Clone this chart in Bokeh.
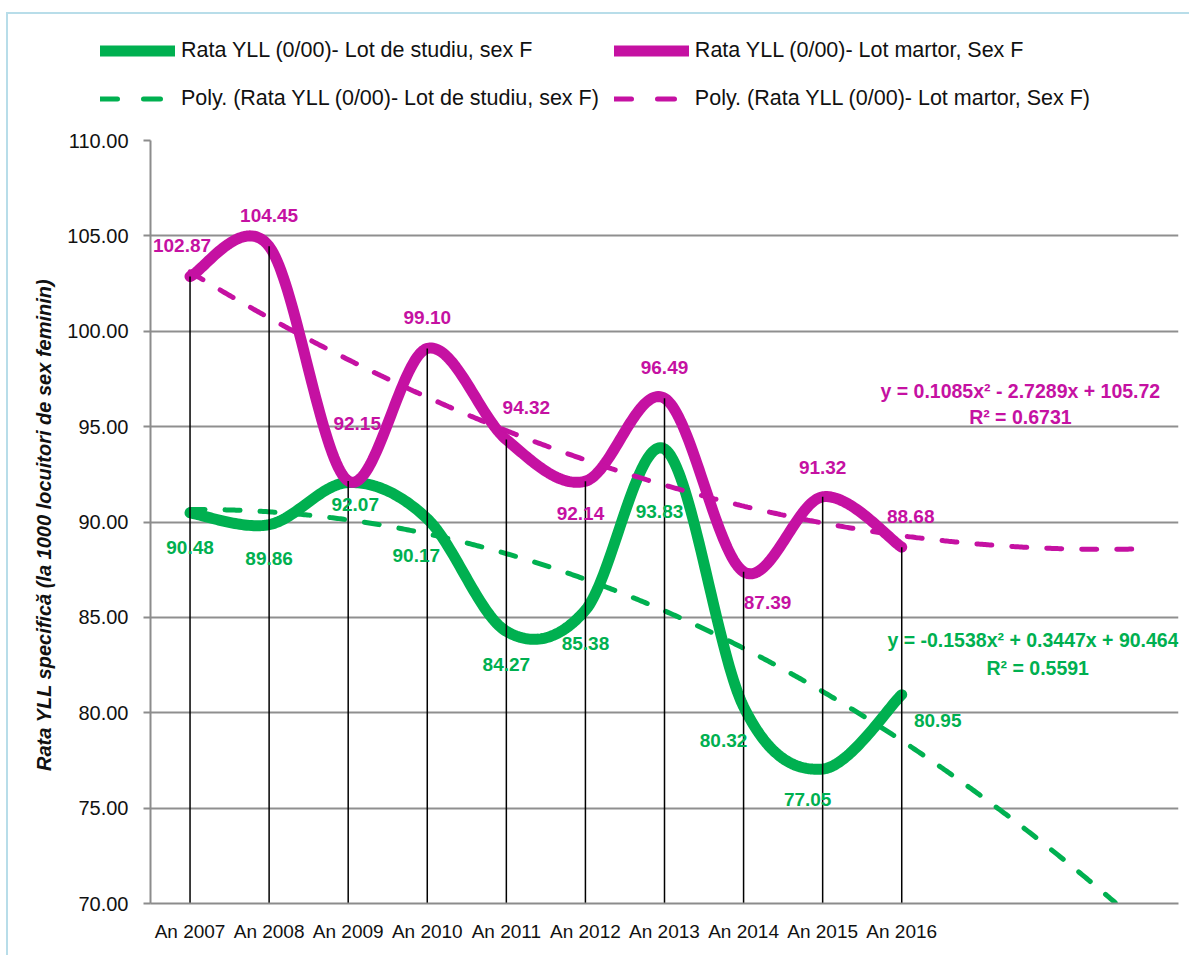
import numpy as np
from bokeh.plotting import figure
from bokeh.layouts import column
from bokeh.models import (ColumnDataSource, Legend, LegendItem, Label, FixedTicker,
                          Range1d, NumeralTickFormatter)
from bokeh.embed import file_html
from bokeh.resources import INLINE
from bokeh.core.properties import value

# ---------------- data ----------------
years = ["An 2007", "An 2008", "An 2009", "An 2010", "An 2011",
         "An 2012", "An 2013", "An 2014", "An 2015", "An 2016"]
studiu = [90.48, 89.86, 92.07, 90.17, 84.27, 85.38, 93.83, 80.32, 77.05, 80.95]
martor = [102.87, 104.45, 92.15, 99.10, 94.32, 92.14, 96.49, 87.39, 91.32, 88.68]
forecast_periods = 3
eq_martor = ["y = 0.1085x² - 2.7289x + 105.72", "R² = 0.6731"]
eq_studiu = ["y = -0.1538x² + 0.3447x + 90.464", "R² = 0.5591"]
y_ticks = [70, 75, 80, 85, 90, 95, 100, 105, 110]
series_names = ["Rata YLL (0/00)- Lot de studiu, sex F",
                "Rata YLL (0/00)- Lot martor, Sex F"]

# label offsets (pixels) for data labels
studiu_dx = [0, 0, 7, -11, 0, 0, -5, -20, -15, 36]
studiu_dy = [35, 34, 22, 37, 33, 33, 63, 34, 30, 26]
martor_dx = [-8, 0, 9, 0, 20, -5, 0, 24, 0, 9]
martor_dy = [-31, -31, -57, -31, -32, 32, -31, 31, -29, -31]

GREEN = "#00B050"
MAGENTA = "#C511A2"
FONT = "Liberation Sans"
FS = "19px"
W = 1189
LEG_H = 125

x = np.arange(1, len(years) + 1)


def smooth(xs, ys, n=40):
    P = np.column_stack([np.asarray(xs, float), np.asarray(ys, float)])
    ext = np.vstack([P[0], P, P[-1]])
    pts = []
    t = np.linspace(0, 1, n)[:, None]
    for i in range(len(P) - 1):
        p0, p1, p2, p3 = ext[i], ext[i + 1], ext[i + 2], ext[i + 3]
        c1 = p1 + (p2 - p0) / 6.0
        c2 = p2 - (p3 - p1) / 6.0
        seg = (1 - t) ** 3 * p1 + 3 * (1 - t) ** 2 * t * c1 + 3 * (1 - t) * t ** 2 * c2 + t ** 3 * p2
        pts.append(seg if i == 0 else seg[1:])
    a = np.vstack(pts)
    return a[:, 0], a[:, 1]


def trend(xs, ys):
    coef = np.polyfit(xs, ys, 2)
    xt = np.linspace(1, len(xs) + forecast_periods, 600)
    yt = np.polyval(coef, xt)
    m = yt >= 70
    return xt[m], yt[m]


solid_style = dict(line_width=11, line_cap="round", line_join="round")
dash_style = dict(line_width=5, line_dash="15 20", line_cap="round")

# ---------------- main chart ----------------
p = figure(width=W, height=955 - LEG_H, output_backend="svg", toolbar_location=None,
           x_range=Range1d(0.5, len(years) + forecast_periods + 0.5),
           y_range=Range1d(70, 110),
           min_border_left=150, min_border_right=11, min_border_top=15,
           min_border_bottom=52)
p.frame_align = False
p.outline_line_color = None
p.background_fill_color = "white"
p.border_fill_color = None

p.xaxis.ticker = FixedTicker(ticks=list(x))
p.xaxis.major_label_overrides = {int(i): years[i - 1] for i in x}
p.xaxis.major_tick_out = 0
p.xaxis.major_tick_in = 0
p.xaxis.minor_tick_line_color = None
p.xaxis.axis_line_color = "#8c8c8c"
p.xaxis.axis_line_width = 2
p.xaxis.major_label_text_font = FONT
p.xaxis.major_label_text_font_size = FS
p.xaxis.major_label_text_color = "#111111"
p.xaxis.major_label_standoff = 17

p.yaxis.ticker = FixedTicker(ticks=y_ticks)
p.yaxis.formatter = NumeralTickFormatter(format="0.00")
p.yaxis.major_tick_out = 7
p.yaxis.major_tick_in = 0
p.yaxis.major_tick_line_color = "#8c8c8c"
p.yaxis.major_tick_line_width = 2
p.yaxis.minor_tick_line_color = None
p.yaxis.axis_line_color = "#8c8c8c"
p.yaxis.axis_line_width = 2
p.yaxis.major_label_text_font = FONT
p.yaxis.major_label_text_font_size = "20px"
p.yaxis.major_label_text_color = "#111111"
p.yaxis.major_label_standoff = 15
p.yaxis.axis_label = "Rata YLL specifică  (la 1000 locuitori de sex feminin)"
p.yaxis.axis_label_text_font = FONT
p.yaxis.axis_label_text_font_style = "bold italic"
p.yaxis.axis_label_text_font_size = "20px"
p.yaxis.axis_label_text_color = "#111111"
p.yaxis.axis_label_standoff = 9

p.xgrid.grid_line_color = None
p.ygrid.ticker = FixedTicker(ticks=y_ticks)
p.ygrid.grid_line_color = "#8f8f8f"
p.ygrid.grid_line_width = 2

gx, gy = smooth(x, studiu)
mx, my = smooth(x, martor)
p.line(gx, gy, line_color=GREEN, **solid_style)
p.line(mx, my, line_color=MAGENTA, **solid_style)

tgx, tgy = trend(x, studiu)
tmx, tmy = trend(x, martor)
p.line(tgx, tgy, line_color=GREEN, **dash_style)
p.line(tmx, tmy, line_color=MAGENTA, **dash_style)

top = np.maximum(studiu, martor)
p.segment(x0=x, y0=top, x1=x, y1=[70] * len(x), line_color="black", line_width=1.5)

src_g = ColumnDataSource(dict(x=x, y=studiu, t=[f"{v:.2f}" for v in studiu], dx=studiu_dx, dy=studiu_dy))
src_m = ColumnDataSource(dict(x=x, y=martor, t=[f"{v:.2f}" for v in martor], dx=martor_dx, dy=martor_dy))
for src, col in ((src_g, GREEN), (src_m, MAGENTA)):
    p.text(x="x", y="y", text="t", x_offset="dx", y_offset="dy", source=src,
           text_color=col, text_font=value(FONT), text_font_style="bold",
           text_font_size=FS, text_align="center", text_baseline="middle")

for txt, xx, yy, col in ((eq_martor[0], 11.50, 96.89, MAGENTA),
                         (eq_martor[1], 11.50, 95.48, MAGENTA),
                         (eq_studiu[0], 11.66, 83.79, GREEN),
                         (eq_studiu[1], 11.72, 82.37, GREEN)):
    p.add_layout(Label(x=xx, y=yy, text=txt, text_color=col, text_font=FONT,
                       text_font_style="bold", text_font_size="19.5px",
                       text_align="center", text_baseline="middle"))

# ---------------- legend strip ----------------
lf = figure(width=W, height=LEG_H, output_backend="svg", toolbar_location=None,
            x_range=Range1d(0, 1), y_range=Range1d(0, 1),
            x_axis_location=None, y_axis_location=None,
            min_border=0, min_border_left=0, min_border_right=0,
            min_border_top=0, min_border_bottom=0)
lf.frame_align = False
lf.grid.visible = False
lf.outline_line_color = None
lf.background_fill_color = None
lf.border_fill_color = None
off = [-10, -9]  # dummy points outside the view; only the legend glyphs are seen
lg = lf.line(off, off, line_color=GREEN, **solid_style)
lm = lf.line(off, off, line_color=MAGENTA, **solid_style)
lgt = lf.line(off, off, line_color=GREEN, line_width=5, line_dash="17 26", line_cap="round")
lmt = lf.line(off, off, line_color=MAGENTA, line_width=5, line_dash="17 26", line_cap="round")

legend = Legend(items=[
    LegendItem(label=series_names[0], renderers=[lg]),
    LegendItem(label=series_names[1], renderers=[lm]),
    LegendItem(label="Poly. (" + series_names[0] + ")", renderers=[lgt]),
    LegendItem(label="Poly. (" + series_names[1] + ")", renderers=[lmt]),
], orientation="horizontal", ncols=2, location=(100, 10))
legend.glyph_width = 75
legend.glyph_height = 33
legend.label_height = 33
legend.label_standoff = 6
legend.spacing = 15
legend.padding = 0
legend.margin = 0
legend.border_line_color = None
legend.background_fill_alpha = 0
legend.label_text_font = FONT
legend.label_text_font_size = "21.5px"
legend.label_text_color = "#111111"
lf.add_layout(legend, "center")

layout = column(lf, p, spacing=0)
layout.styles = {
    "background": ("linear-gradient(#b8dde9, #b8dde9) 6px 12px / calc(100% - 6px) 2px no-repeat, "
                   "linear-gradient(#b8dde9, #b8dde9) 6px 12px / 2px calc(100% - 12px) no-repeat, white"),
}

open("out.html", "w").write(file_html(layout, INLINE))
